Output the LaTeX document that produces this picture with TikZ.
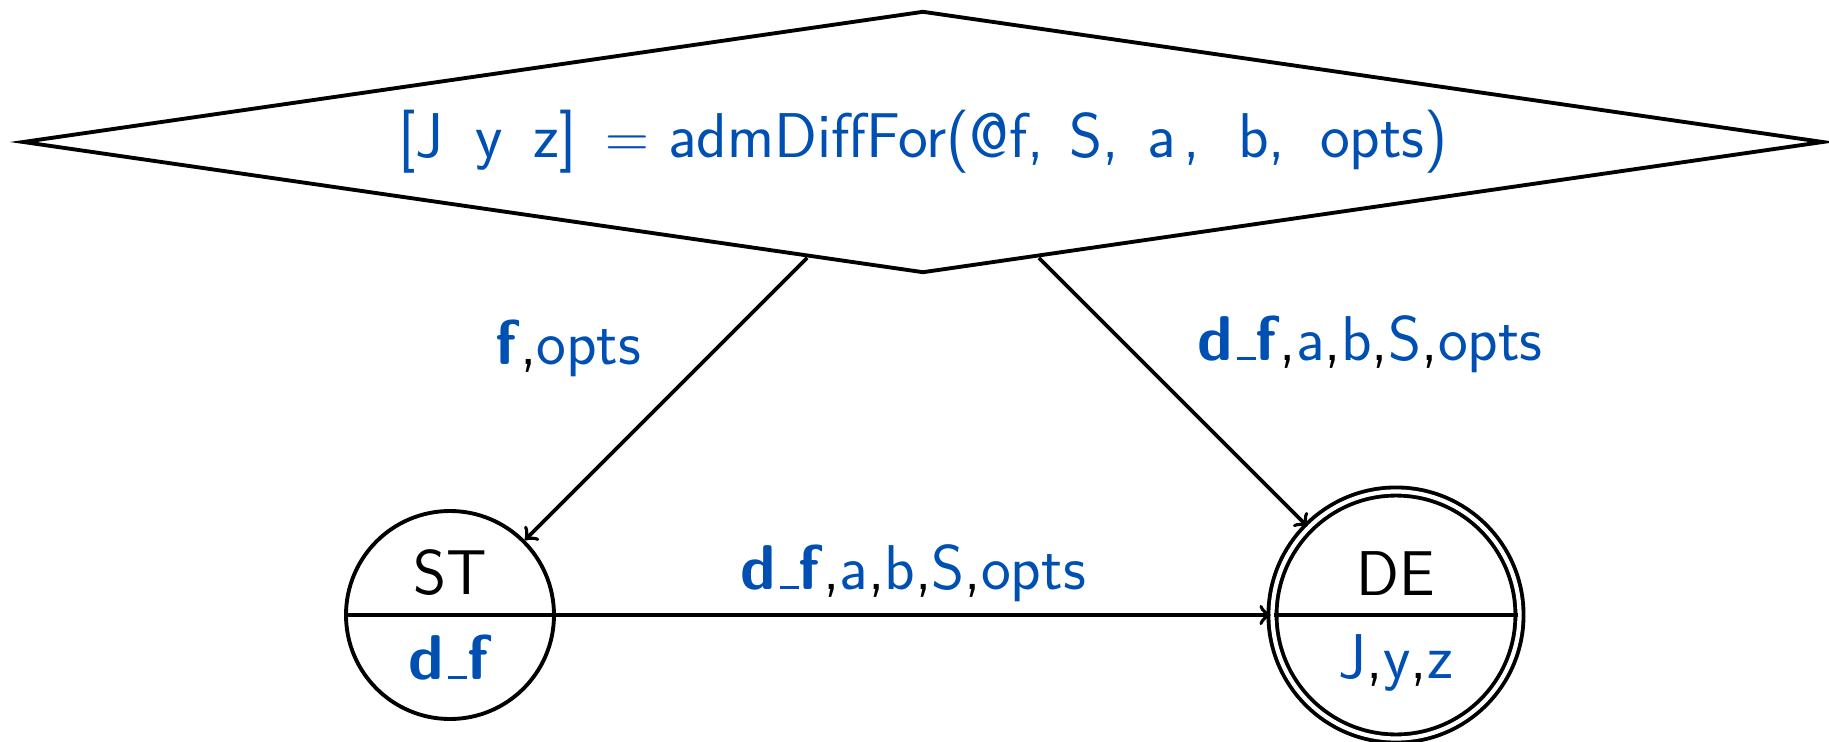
\documentclass[tikz,border=0pt]{standalone}
\usepackage{xcolor}
\usetikzlibrary{shapes.geometric, shapes.multipart}
\renewcommand{\familydefault}{\sfdefault}
\definecolor{varblue}{RGB}{0,80,180}
\newcommand{\vb}[1]{\textcolor{varblue}{#1}}
\newcommand{\vbf}[1]{\textcolor{varblue}{\textbf{#1}}}
\newcommand{\uscore}{\leavevmode\kern.06em\vbox{\hrule width.3em height.8pt}}
\newcommand{\df}{\vbf{d}\textcolor{varblue}{\uscore}\vbf{f}}
\tikzset{every node/.append style={font=\fontsize{18}{22}\selectfont}}
\tikzset{
  call/.style={diamond, draw, aspect=6.9, minimum width=18.01cm, minimum height=2.62cm, inner sep=0pt, text=varblue},
  state/.style={circle split, draw, minimum size=2.08cm, inner sep=5pt},
  final/.style={state, double, double distance=1.2pt, minimum size=2.47cm},
}
\begin{document}
\begin{tikzpicture}[>=to, line width=1.1pt]
  \useasboundingbox (0,0) rectangle (18.29,7.41);
  % call to the solver
  \node[call] (call) at (9.23,5.99) {[J\hspace{.5em}y\hspace{.5em}z]\hspace{.45em}$=$\hspace{.3em}admDiffFor(@f,\hspace{.4em}S,\hspace{.45em}a\hspace{.12em},\hspace{.6em}b,\hspace{.55em}opts)};
  % forward and adjoint parts
  \node[state] (ST) at (4.50,1.26) {ST \nodepart{lower} \df};
  \node[final] (DE) at (13.96,1.26) {DE \nodepart{lower} \vb{J},\vb{y},\vb{z}};
  \draw[->] (call) -- (ST) node[pos=0.32, left=6.2mm] {\vbf{f},\vb{opts}};
  \draw[->] (call) -- (DE) node[pos=0.32, right=5.9mm] {\df,\vb{a},\vb{b},\vb{S},\vb{opts}};
  \draw[->] (ST) -- (DE) node[midway, above] {\df,\vb{a},\vb{b},\vb{S},\vb{opts}};
\end{tikzpicture}
\end{document}
